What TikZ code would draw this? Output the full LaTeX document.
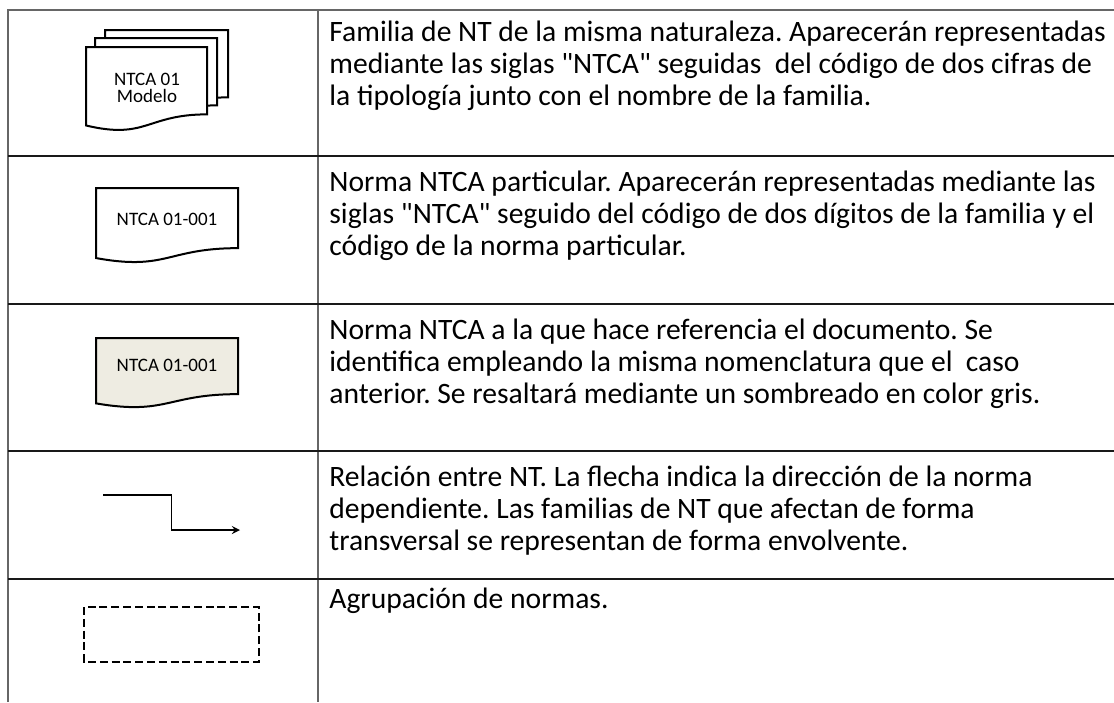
\documentclass[tikz,border=0pt]{standalone}
\usepackage{fontspec}
\setmainfont{Carlito}
\usetikzlibrary{calc}
\definecolor{sombra}{RGB}{238,236,226}

\begin{document}
\frenchspacing
\begin{tikzpicture}[x=.5pt,y=-.5pt,>=stealth,
	rejilla/.style={line width=.6pt,black!60},
	hoja/.pic={\path[pic actions] (0,0) -- (1,0) -- (1,.802) .. controls (.5,.802) and (.5,1.107) .. (0,.934) -- cycle;},
	contorno/.style={draw,line width=1pt},
	texto/.style={anchor=base west,inner sep=0,align=left,font=\fontsize{14.8}{16}\selectfont},
	sigla/.style={inner sep=0,align=center,font=\fontsize{9.5}{8.5}\selectfont}]
	\useasboundingbox (0,0) rectangle (1114,702);
	
	\draw[rejilla] (8,702) -- (8,10) -- (1114,10) (318,10) -- (318,702);
	\foreach \y in {156,304,451,579}
		\draw[rejilla,black!90] (8,\y) -- (1114,\y);
	
	\foreach \x/\y/\w in {105/30/123,95/38/122,86/47/121}
		\pic[contorno,fill=white,xscale=\w,yscale=84] at (\x,\y) {hoja};
	\node[sigla] (familia) at (147,88) {NTCA 01\\Modelo};
	
	\pic[contorno,fill=white,xscale=142,yscale=75] at (96,188) {hoja};
	\node[sigla] (particular) at (167,219) {NTCA 01-001};
	
	\pic[contorno,fill=sombra,xscale=142,yscale=70] at (96,338) {hoja};
	\node[sigla] (referida) at (167,365) {NTCA 01-001};
	
	\coordinate (origen) at (103,495);
	\coordinate (destino) at (240,530);
	\draw[line width=.8pt,->] (origen) -| ($(origen)!.5!(destino)$) |- (destino);
	
	\draw[line width=1pt,dash pattern=on 4pt off 1.9pt] (84,607) rectangle (259,662);
	
	\node[texto] (famdesc) at (329,105) {Familia de NT de la misma naturaleza. Aparecerán representadas\\mediante las siglas \textquotedbl NTCA\textquotedbl{} seguidas\ \ del código de dos cifras de\\la tipología junto con el nombre de la familia.};
	\node[texto] (partdesc) at (329,255) {Norma NTCA particular. Aparecerán representadas mediante las\\siglas \textquotedbl NTCA\textquotedbl{} seguido del código de dos dígitos de la familia y el\\código de la norma particular.};
	\node[texto] (refdesc) at (329,403) {Norma NTCA a la que hace referencia el documento. Se\\identifica empleando la misma nomenclatura que el\ \ caso\\anterior. Se resaltará mediante un sombreado en color gris.};
	\node[texto] (reldesc) at (329,550) {Relación entre NT. La flecha indica la dirección de la norma\\dependiente. Las familias de NT que afectan de forma\\transversal se representan de forma envolvente.};
	\node[texto] (grupodesc) at (329,608) {Agrupación de normas.};
\end{tikzpicture}
\end{document}
